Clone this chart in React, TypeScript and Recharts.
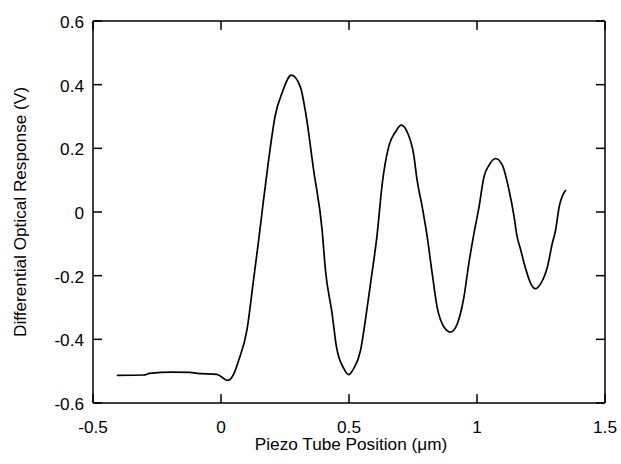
import React from 'react';
import { LineChart, Line, XAxis, YAxis, ReferenceLine } from 'recharts';

// Piezo tube position (µm) and differential optical response (V)
const positions = [
  -0.407, -0.3, -0.28, -0.192, -0.12, -0.094, -0.016, 0.027, 0.049, 0.069, 0.101, 0.127, 0.147,
  0.166, 0.186, 0.212, 0.238, 0.275, 0.31, 0.329, 0.362, 0.395, 0.408, 0.434, 0.451,
  0.48, 0.499, 0.518, 0.545, 0.564, 0.584, 0.61, 0.63, 0.655, 0.682, 0.704, 0.727,
  0.753, 0.766, 0.786, 0.805, 0.825, 0.844, 0.871, 0.897, 0.923, 0.949, 0.968, 0.988,
  1.008, 1.027, 1.047, 1.073, 1.099, 1.125, 1.145, 1.155, 1.171, 1.19, 1.21, 1.227,
  1.249, 1.275, 1.294, 1.307, 1.321, 1.347,
];
const responses = [
  -0.513, -0.512, -0.507, -0.503, -0.504, -0.507, -0.51, -0.529, -0.51, -0.466, -0.372, -0.214, -0.089,
  0.037, 0.163, 0.304, 0.373, 0.43, 0.393, 0.32, 0.131, -0.057, -0.183, -0.319, -0.424,
  -0.492, -0.511, -0.492, -0.435, -0.34, -0.225, -0.07, 0.09, 0.205, 0.252, 0.273, 0.252,
  0.179, 0.1, 0.016, -0.075, -0.193, -0.298, -0.361, -0.377, -0.351, -0.267, -0.162, -0.068,
  0.016, 0.11, 0.147, 0.168, 0.147, 0.069, -0.015, -0.07, -0.12, -0.178, -0.225, -0.241,
  -0.225, -0.173, -0.099, -0.057, 0.016, 0.069,
];

const xTicks = [-0.5, 0, 0.5, 1, 1.5];
const yTicks = [-0.6, -0.4, -0.2, 0, 0.2, 0.4, 0.6];

const data = positions.map((x, i) => ({ x, y: responses[i] }));

// frame of the plot, in page pixels
const W = 621;
const H = 464;
const LEFT = 93;
const RIGHT = 605;
const TOP = 21;
const BOTTOM = 403;

const FONT = 'Liberation Sans, Arial, sans-serif';
const FONT_SIZE = 17.2;
const TICK_LEN = 9;
const STROKE = 1.5;
const axisLine = { stroke: '#000', strokeWidth: STROKE };

const fmt = (v: number) => (v === 0 ? '0' : String(v));

// inward tick marks on both sides, labels outside the frame
const BottomTick = ({ payload }: any) => {
  const x = payload.coordinate;
  return (
    <g>
      <line x1={x} x2={x} y1={BOTTOM} y2={BOTTOM - TICK_LEN} stroke="#000" strokeWidth={STROKE} />
      <line x1={x} x2={x} y1={TOP} y2={TOP + TICK_LEN} stroke="#000" strokeWidth={STROKE} />
      <text x={x} y={BOTTOM + 30} textAnchor="middle" fill="#000" fontSize={FONT_SIZE} fontFamily={FONT}>
        {fmt(payload.value)}
      </text>
    </g>
  );
};

const LeftTick = ({ payload }: any) => {
  const y = payload.coordinate;
  return (
    <g>
      <line x1={LEFT} x2={LEFT + TICK_LEN} y1={y} y2={y} stroke="#000" strokeWidth={STROKE} />
      <line x1={RIGHT} x2={RIGHT - TICK_LEN} y1={y} y2={y} stroke="#000" strokeWidth={STROKE} />
      <text x={LEFT - 9} y={y + 7} textAnchor="end" fill="#000" fontSize={FONT_SIZE} fontFamily={FONT}>
        {fmt(payload.value)}
      </text>
    </g>
  );
};

const XTitle = () => (
  <text
    x={(LEFT + RIGHT) / 2 + 2}
    y={BOTTOM + 47}
    textAnchor="middle"
    fill="#000"
    fontSize={FONT_SIZE}
    fontFamily={FONT}
  >
    Piezo Tube Position (μm)
  </text>
);

const YTitle = () => {
  const cx = 26;
  const cy = (TOP + BOTTOM) / 2;
  return (
    <text
      x={cx}
      y={cy}
      transform={`rotate(-90 ${cx} ${cy})`}
      textAnchor="middle"
      fill="#000"
      fontSize={FONT_SIZE}
      fontFamily={FONT}
    >
      Differential Optical Response (V)
    </text>
  );
};

export default function App() {
  return (
    <div style={{ position: 'absolute', left: 0, top: 0, background: '#fff' }}>
      <LineChart
        width={W}
        height={H}
        data={data}
        margin={{ top: TOP, right: W - RIGHT, left: 0, bottom: 0 }}
      >
        <XAxis
          dataKey="x"
          type="number"
          domain={[-0.5, 1.5]}
          ticks={xTicks}
          height={H - BOTTOM}
          axisLine={axisLine}
          tickLine={false}
          tick={BottomTick}
          interval={0}
          label={XTitle}
        />
        <YAxis
          type="number"
          domain={[-0.6, 0.6]}
          ticks={yTicks}
          width={LEFT}
          axisLine={axisLine}
          tickLine={false}
          tick={LeftTick}
          interval={0}
          label={YTitle}
        />
        <ReferenceLine y={0.6} stroke="#000" strokeWidth={STROKE} />
        <ReferenceLine x={1.5} stroke="#000" strokeWidth={STROKE} />
        <Line
          type="monotone"
          dataKey="y"
          stroke="#000"
          strokeWidth={1.7}
          dot={false}
          isAnimationActive={false}
        />
      </LineChart>
    </div>
  );
}
